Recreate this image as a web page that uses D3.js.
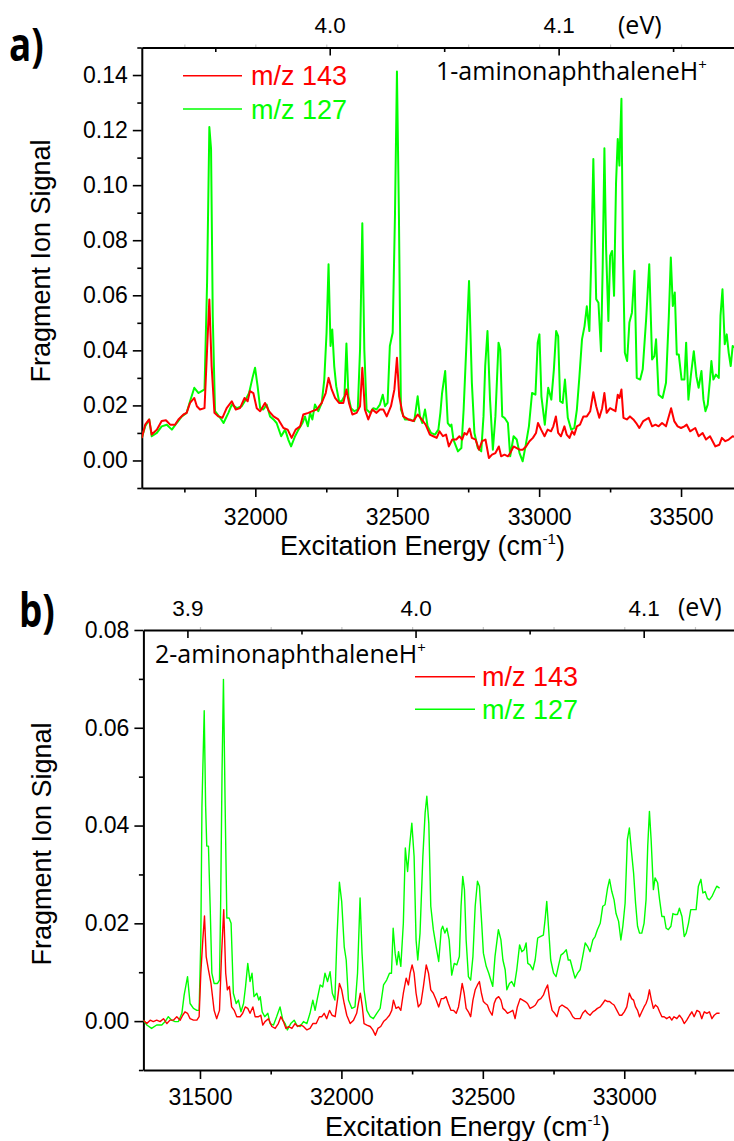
<!DOCTYPE html>
<html>
<head>
<meta charset="utf-8">
<script src="https://cdn.jsdelivr.net/npm/d3@7"></script>
<style>
  body { margin: 0; background: #fff; }
  svg { display: block; }
</style>
</head>
<body>
<svg id="chart" width="734" height="1141"></svg>
<script>
// photon energy conversion used for the top (eV) axes
const CM_PER_EV = 8065.54;

// ---------- panel a: 1-aminonaphthaleneH+ (wavenumber cm^-1, fragment signal) ----------
const aMz127 = [
  [31600,0.0082],[31612,0.0124],[31626,0.0149],[31635,0.0088],[31653,0.0100],[31670,0.0124],[31688,0.0130],[31706,0.0112],
  [31723,0.0136],[31741,0.0160],[31758,0.0173],[31770,0.0215],[31785,0.0264],[31800,0.0245],[31811,0.0252],[31821,0.0258],
  [31830,0.0646],[31838,0.1211],[31844,0.1132],[31850,0.0525],[31858,0.0179],[31876,0.0155],[31888,0.0136],[31905,0.0173],
  [31917,0.0203],[31935,0.0190],[31952,0.0197],[31966,0.0221],[31978,0.0245],[31990,0.0300],[31999,0.0337],[32008,0.0270],
  [32017,0.0190],[32028,0.0185],[32040,0.0203],[32052,0.0160],[32064,0.0149],[32075,0.0136],[32091,0.0088],[32105,0.0112],
  [32116,0.0076],[32126,0.0051],[32140,0.0088],[32152,0.0112],[32166,0.0136],[32175,0.0160],[32185,0.0124],[32193,0.0173],
  [32201,0.0149],[32210,0.0203],[32222,0.0179],[32234,0.0209],[32243,0.0294],[32251,0.0464],[32258,0.0713],[32265,0.0416],
  [32271,0.0476],[32278,0.0343],[32285,0.0270],[32295,0.0215],[32304,0.0215],[32314,0.0233],[32321,0.0425],[32328,0.0233],
  [32337,0.0190],[32349,0.0179],[32361,0.0185],[32369,0.0403],[32377,0.0862],[32384,0.0403],[32392,0.0185],[32404,0.0173],
  [32416,0.0190],[32427,0.0185],[32439,0.0203],[32449,0.0239],[32457,0.0197],[32466,0.0209],[32474,0.0416],[32484,0.0464],
  [32492,0.0889],[32499,0.1413],[32506,0.0889],[32513,0.0185],[32527,0.0149],[32545,0.0149],[32560,0.0143],[32572,0.0233],
  [32580,0.0160],[32588,0.0136],[32598,0.0185],[32607,0.0124],[32619,0.0100],[32633,0.0094],[32645,0.0112],[32652,0.0173],
  [32658,0.0245],[32669,0.0325],[32678,0.0136],[32687,0.0124],[32691,0.0130],[32698,0.0076],[32714,0.0033],[32726,0.0045],
  [32734,0.0185],[32743,0.0403],[32753,0.0652],[32763,0.0282],[32772,0.0100],[32784,0.0045],[32796,0.0033],[32804,0.0161],
  [32810,0.0343],[32818,0.0470],[32827,0.0221],[32837,0.0039],[32846,0.0161],[32857,0.0428],[32863,0.0403],[32870,0.0160],
  [32878,0.0155],[32890,0.0136],[32898,0.0015],[32910,0.0088],[32921,0.0076],[32931,0.0027],[32942,-0.0003],[32952,0.0051],
  [32964,0.0124],[32975,0.0245],[32987,0.0239],[32995,0.0428],[33001,0.0458],[33008,0.0233],[33020,0.0130],[33032,0.0264],
  [33043,0.0221],[33052,0.0331],[33060,0.0470],[33067,0.0452],[33074,0.0215],[33083,0.0209],[33091,0.0294],[33101,0.0155],
  [33113,0.0112],[33124,0.0118],[33133,0.0185],[33142,0.0306],[33151,0.0440],[33160,0.0488],[33168,0.0560],[33177,0.0470],
  [33183,0.0707],[33191,0.1095],[33201,0.0586],[33209,0.0573],[33218,0.0397],[33224,0.0707],[33230,0.1134],[33236,0.0768],
  [33244,0.0507],[33250,0.0743],[33257,0.0761],[33264,0.0598],[33271,0.1010],[33277,0.1168],[33283,0.1071],[33285,0.1156],
  [33290,0.1314],[33295,0.0768],[33302,0.0391],[33310,0.0361],[33318,0.0501],[33327,0.0537],[33336,0.0689],[33344,0.0300],
  [33356,0.0294],[33365,0.0331],[33377,0.0513],[33388,0.0713],[33398,0.0367],[33406,0.0379],[33412,0.0440],[33421,0.0239],
  [33435,0.0227],[33447,0.0282],[33457,0.0525],[33464,0.0737],[33471,0.0561],[33478,0.0610],[33485,0.0385],[33492,0.0385],
  [33502,0.0294],[33512,0.0294],[33518,0.0428],[33526,0.0221],[33535,0.0312],[33545,0.0397],[33554,0.0306],[33562,0.0264],
  [33572,0.0325],[33579,0.0221],[33586,0.0179],[33594,0.0203],[33602,0.0294],[33607,0.0361],[33614,0.0294],[33623,0.0312],
  [33633,0.0300],[33639,0.0525],[33646,0.0622],[33654,0.0422],[33661,0.0458],[33668,0.0391],[33675,0.0343],[33682,0.0416],
  [33690,0.0410]
];

const aMz143 = [
  [31600,0.0082],[31612,0.0130],[31626,0.0149],[31635,0.0094],[31653,0.0112],[31670,0.0143],[31685,0.0146],[31700,0.0130],
  [31717,0.0130],[31729,0.0149],[31747,0.0167],[31758,0.0173],[31770,0.0209],[31785,0.0227],[31794,0.0197],[31805,0.0185],
  [31821,0.0190],[31830,0.0403],[31838,0.0585],[31846,0.0343],[31856,0.0173],[31870,0.0160],[31884,0.0155],[31899,0.0190],
  [31917,0.0215],[31931,0.0185],[31946,0.0190],[31962,0.0227],[31973,0.0215],[31981,0.0252],[31993,0.0245],[32005,0.0190],
  [32017,0.0179],[32034,0.0209],[32048,0.0179],[32064,0.0160],[32081,0.0149],[32099,0.0118],[32114,0.0112],[32128,0.0082],
  [32142,0.0112],[32158,0.0124],[32169,0.0167],[32187,0.0173],[32201,0.0179],[32216,0.0185],[32234,0.0209],[32248,0.0245],
  [32258,0.0300],[32269,0.0258],[32281,0.0227],[32295,0.0209],[32310,0.0209],[32321,0.0258],[32330,0.0209],[32342,0.0167],
  [32357,0.0173],[32369,0.0197],[32377,0.0337],[32386,0.0185],[32398,0.0149],[32412,0.0185],[32427,0.0173],[32439,0.0185],
  [32451,0.0185],[32463,0.0160],[32478,0.0197],[32490,0.0258],[32499,0.0373],[32507,0.0233],[32521,0.0160],[32539,0.0149],
  [32557,0.0143],[32572,0.0167],[32586,0.0149],[32600,0.0130],[32615,0.0094],[32627,0.0088],[32639,0.0082],[32649,0.0106],
  [32661,0.0088],[32672,0.0094],[32682,0.0051],[32694,0.0076],[32708,0.0076],[32719,0.0088],[32729,0.0076],[32737,0.0100],
  [32745,0.0094],[32755,0.0116],[32763,0.0082],[32776,0.0076],[32788,0.0039],[32799,0.0070],[32811,0.0076],[32823,0.0009],
  [32834,0.0021],[32846,0.0027],[32858,0.0051],[32866,0.0015],[32878,0.0021],[32890,0.0015],[32898,0.0027],[32910,0.0051],
  [32921,0.0045],[32931,0.0039],[32942,0.0039],[32954,0.0051],[32966,0.0070],[32978,0.0082],[32989,0.0100],[32996,0.0136],
  [33007,0.0112],[33019,0.0088],[33030,0.0112],[33042,0.0106],[33050,0.0124],[33059,0.0160],[33067,0.0100],[33077,0.0088],
  [33089,0.0124],[33097,0.0094],[33107,0.0082],[33116,0.0106],[33124,0.0094],[33133,0.0124],[33144,0.0130],[33156,0.0160],
  [33168,0.0160],[33180,0.0179],[33191,0.0248],[33201,0.0197],[33212,0.0155],[33222,0.0190],[33230,0.0245],[33238,0.0173],
  [33250,0.0190],[33259,0.0185],[33269,0.0179],[33277,0.0239],[33283,0.0227],[33290,0.0258],[33297,0.0155],[33309,0.0149],
  [33320,0.0160],[33332,0.0149],[33342,0.0136],[33353,0.0118],[33367,0.0143],[33386,0.0155],[33398,0.0124],[33410,0.0130],
  [33421,0.0124],[33433,0.0136],[33447,0.0124],[33465,0.0190],[33476,0.0143],[33488,0.0124],[33500,0.0118],[33512,0.0124],
  [33520,0.0130],[33532,0.0106],[33550,0.0118],[33562,0.0088],[33576,0.0100],[33588,0.0076],[33602,0.0088],[33621,0.0051],
  [33635,0.0057],[33644,0.0082],[33656,0.0070],[33668,0.0076],[33682,0.0088],[33690,0.0085]
];

// ---------- panel b: 2-aminonaphthaleneH+ ----------
const bMz127 = [
  [31300,0.0002],[31312,-0.0008],[31329,-0.0015],[31347,-0.0008],[31365,-0.0008],[31377,-0.0001],[31388,0.0009],[31400,0.0002],
  [31412,-0.0001],[31424,-0.0001],[31436,0.0016],[31444,0.0053],[31456,0.0091],[31465,0.0036],[31477,0.0026],[31489,0.0022],
  [31497,0.0022],[31503,0.0166],[31507,0.0440],[31515,0.0635],[31520,0.0440],[31524,0.0358],[31530,0.0358],[31536,0.0235],
  [31542,0.0098],[31550,0.0077],[31562,0.0077],[31569,0.0084],[31573,0.0235],[31578,0.0508],[31583,0.0699],[31589,0.0440],
  [31595,0.0211],[31603,0.0211],[31610,0.0200],[31618,0.0057],[31628,0.0036],[31636,0.0043],[31645,0.0019],[31654,0.0036],
  [31661,0.0070],[31669,0.0118],[31677,0.0081],[31684,0.0098],[31691,0.0050],[31701,0.0057],[31708,0.0043],[31713,0.0050],
  [31720,0.0019],[31729,0.0009],[31740,0.0016],[31748,-0.0005],[31760,-0.0008],[31771,0.0009],[31783,0.0029],[31793,0.0002],
  [31801,-0.0005],[31809,-0.0018],[31821,-0.0005],[31833,0.0002],[31842,-0.0008],[31854,-0.0011],[31866,-0.0001],[31878,-0.0005],
  [31889,0.0016],[31899,0.0043],[31907,0.0022],[31915,0.0046],[31925,0.0074],[31934,0.0070],[31942,0.0098],[31951,0.0081],
  [31960,0.0101],[31968,0.0057],[31977,0.0043],[31984,0.0166],[31993,0.0284],[32001,0.0245],[32010,0.0152],[32017,0.0125],
  [32025,0.0043],[32037,0.0026],[32048,0.0029],[32057,0.0098],[32066,0.0252],[32073,0.0139],[32080,0.0064],[32090,0.0022],
  [32102,0.0009],[32113,0.0005],[32125,0.0016],[32137,0.0026],[32149,0.0074],[32160,0.0084],[32170,0.0098],[32177,0.0098],
  [32183,0.0190],[32190,0.0139],[32196,0.0115],[32202,0.0142],[32210,0.0112],[32219,0.0200],[32226,0.0354],[32234,0.0306],
  [32241,0.0358],[32249,0.0405],[32257,0.0337],[32264,0.0166],[32270,0.0125],[32278,0.0180],[32288,0.0337],[32296,0.0426],
  [32302,0.0460],[32309,0.0405],[32316,0.0235],[32325,0.0187],[32335,0.0152],[32344,0.0122],[32353,0.0187],[32358,0.0194],
  [32366,0.0180],[32373,0.0190],[32381,0.0166],[32390,0.0094],[32399,0.0118],[32408,0.0115],[32417,0.0132],[32423,0.0235],
  [32429,0.0296],[32435,0.0269],[32441,0.0166],[32449,0.0091],[32457,0.0084],[32465,0.0132],[32473,0.0235],[32481,0.0286],
  [32488,0.0276],[32496,0.0200],[32502,0.0139],[32512,0.0112],[32521,0.0098],[32528,0.0084],[32535,0.0071],[32543,0.0132],
  [32555,0.0187],[32564,0.0166],[32571,0.0125],[32579,0.0105],[32585,0.0064],[32594,0.0077],[32602,0.0081],[32611,0.0071],
  [32620,0.0105],[32630,0.0156],[32638,0.0142],[32646,0.0146],[32653,0.0160],[32659,0.0118],[32667,0.0115],[32677,0.0105],
  [32685,0.0125],[32694,0.0170],[32703,0.0173],[32714,0.0176],[32720,0.0207],[32726,0.0245],[32732,0.0194],[32740,0.0125],
  [32750,0.0098],[32759,0.0091],[32767,0.0112],[32776,0.0135],[32785,0.0139],[32795,0.0146],[32802,0.0125],[32809,0.0125],
  [32818,0.0105],[32826,0.0088],[32835,0.0098],[32844,0.0105],[32853,0.0132],[32862,0.0160],[32870,0.0153],[32879,0.0142],
  [32889,0.0166],[32897,0.0173],[32905,0.0187],[32915,0.0200],[32924,0.0235],[32932,0.0238],[32941,0.0272],[32948,0.0290],
  [32956,0.0265],[32964,0.0248],[32971,0.0220],[32980,0.0204],[32988,0.0166],[32995,0.0194],[33003,0.0241],[33011,0.0371],
  [33018,0.0395],[33026,0.0344],[33033,0.0303],[33040,0.0241],[33047,0.0194],[33054,0.0180],[33062,0.0180],[33070,0.0200],
  [33077,0.0248],[33083,0.0358],[33089,0.0429],[33095,0.0371],[33103,0.0269],[33109,0.0293],[33118,0.0283],[33125,0.0248],
  [33133,0.0214],[33141,0.0214],[33148,0.0190],[33156,0.0187],[33165,0.0194],[33172,0.0220],[33180,0.0218],[33188,0.0218],
  [33195,0.0231],[33204,0.0214],[33212,0.0173],[33219,0.0180],[33227,0.0200],[33235,0.0228],[33245,0.0228],[33254,0.0228],
  [33262,0.0276],[33271,0.0290],[33278,0.0262],[33286,0.0265],[33294,0.0251],[33301,0.0248],[33310,0.0255],[33318,0.0265],
  [33327,0.0276],[33337,0.0272]
];

const bMz143 = [
  [31300,0.0002],[31312,-0.0005],[31324,0.0002],[31335,-0.0001],[31347,0.0002],[31359,-0.0001],[31371,0.0005],[31383,-0.0005],
  [31394,0.0002],[31406,0.0002],[31418,0.0009],[31430,0.0002],[31439,0.0012],[31447,0.0019],[31456,0.0016],[31465,0.0005],
  [31477,0.0002],[31489,0.0002],[31497,0.0009],[31503,0.0098],[31510,0.0166],[31516,0.0215],[31522,0.0132],[31530,0.0105],
  [31539,0.0077],[31550,0.0022],[31559,0.0005],[31569,0.0022],[31576,0.0132],[31584,0.0228],[31591,0.0098],[31597,0.0064],
  [31604,0.0071],[31612,0.0029],[31621,0.0022],[31630,0.0009],[31642,0.0009],[31651,0.0016],[31660,0.0029],[31669,0.0026],
  [31677,0.0016],[31687,0.0029],[31695,0.0009],[31707,0.0009],[31715,0.0012],[31722,-0.0008],[31730,-0.0001],[31742,0.0005],
  [31754,-0.0011],[31766,-0.0015],[31777,-0.0005],[31786,0.0009],[31795,-0.0001],[31804,-0.0015],[31813,-0.0011],[31825,-0.0015],
  [31836,-0.0005],[31845,-0.0011],[31856,-0.0008],[31866,-0.0011],[31878,-0.0018],[31889,-0.0015],[31899,-0.0005],[31911,-0.0005],
  [31922,0.0009],[31931,0.0009],[31939,0.0016],[31948,0.0005],[31958,0.0022],[31967,0.0012],[31978,0.0009],[31986,0.0043],
  [31993,0.0077],[32001,0.0064],[32010,0.0036],[32019,0.0012],[32031,-0.0005],[32043,0.0002],[32054,0.0016],[32060,0.0036],
  [32067,0.0057],[32074,0.0029],[32080,-0.0005],[32090,-0.0008],[32102,-0.0011],[32111,-0.0018],[32120,-0.0029],[32129,-0.0015],
  [32139,-0.0011],[32149,-0.0001],[32160,0.0005],[32170,0.0012],[32178,0.0022],[32184,0.0043],[32193,0.0026],[32202,0.0029],
  [32210,0.0022],[32219,0.0057],[32229,0.0088],[32237,0.0074],[32243,0.0098],[32250,0.0115],[32257,0.0098],[32264,0.0057],
  [32272,0.0029],[32281,0.0036],[32290,0.0071],[32300,0.0115],[32308,0.0098],[32316,0.0064],[32325,0.0057],[32335,0.0043],
  [32344,0.0029],[32353,0.0046],[32361,0.0046],[32370,0.0050],[32378,0.0036],[32387,0.0022],[32396,0.0022],[32406,0.0016],
  [32414,0.0029],[32420,0.0050],[32427,0.0077],[32434,0.0057],[32441,0.0026],[32449,0.0019],[32457,0.0009],[32465,0.0043],
  [32473,0.0064],[32481,0.0074],[32488,0.0081],[32495,0.0057],[32502,0.0040],[32509,0.0036],[32516,0.0033],[32523,0.0022],
  [32533,0.0012],[32540,0.0036],[32547,0.0046],[32556,0.0050],[32564,0.0043],[32571,0.0026],[32579,0.0022],[32587,0.0016],
  [32597,0.0019],[32606,0.0022],[32614,0.0005],[32622,0.0029],[32632,0.0046],[32641,0.0043],[32650,0.0040],[32658,0.0036],
  [32667,0.0026],[32677,0.0029],[32686,0.0033],[32696,0.0043],[32705,0.0046],[32714,0.0053],[32721,0.0064],[32729,0.0074],
  [32736,0.0046],[32745,0.0022],[32754,0.0016],[32762,0.0009],[32771,0.0029],[32780,0.0033],[32790,0.0029],[32799,0.0026],
  [32809,0.0019],[32818,0.0009],[32826,0.0005],[32835,0.0005],[32844,0.0005],[32853,0.0016],[32862,0.0022],[32870,0.0016],
  [32879,0.0012],[32889,0.0019],[32897,0.0022],[32905,0.0026],[32915,0.0029],[32924,0.0036],[32932,0.0043],[32941,0.0040],
  [32948,0.0040],[32956,0.0036],[32964,0.0033],[32974,0.0022],[32983,0.0012],[32991,0.0012],[33000,0.0019],[33009,0.0029],
  [33018,0.0057],[33026,0.0046],[33033,0.0043],[33040,0.0029],[33047,0.0022],[33054,0.0009],[33062,0.0019],[33070,0.0029],
  [33077,0.0036],[33083,0.0046],[33089,0.0064],[33096,0.0043],[33103,0.0026],[33110,0.0033],[33118,0.0029],[33125,0.0019],
  [33133,0.0009],[33141,0.0009],[33150,0.0005],[33160,0.0009],[33168,0.0002],[33176,0.0009],[33186,0.0005],[33195,0.0012],
  [33204,0.0005],[33212,-0.0005],[33221,0.0002],[33231,0.0012],[33239,0.0019],[33247,0.0009],[33257,0.0022],[33266,0.0019],
  [33274,0.0005],[33283,0.0019],[33292,0.0016],[33301,0.0019],[33310,0.0005],[33318,0.0012],[33327,0.0016],[33337,0.0016]
];

// axis tick values
const aXTicks = [32000, 32500, 33000, 33500];
const aXMinor = [31750, 32250, 32750, 33250];
const aYTicks = [0, 0.02, 0.04, 0.06, 0.08, 0.10, 0.12, 0.14];
const aEvTicks = [4.0, 4.1];
const aEvMinor = [3.95, 4.05, 4.15];

const bXTicks = [31500, 32000, 32500, 33000];
const bXMinor = [31750, 32250, 32750, 33250];
const bYTicks = [0, 0.02, 0.04, 0.06, 0.08];
const bEvTicks = [3.9, 4.0, 4.1];
const bEvMinor = [3.95, 4.05];

const seriesNames = ["m/z 143", "m/z 127"];
const seriesColors = ["#ff0000", "#00ff00"];

const ARIAL = "'Liberation Sans', Arial, sans-serif";
const SANS = "'Open Sans', 'Noto Sans', sans-serif";

const svg = d3.select("#chart");

const panels = [
  {
    id: "a", tag: "a)", compound: "1-aminonaphthalene", tagX: 9, tagY: 61,
    red: aMz143, green: aMz127,
    xDomain: [31600, 33700], yDomain: [-0.01, 0.15],
    left: 141.8, right: 737.8, top: 47.5, bottom: 488,
    xTicks: aXTicks, xMinor: aXMinor, yTicks: aYTicks, evTicks: aEvTicks, evMinor: aEvMinor,
    xPad: 11.5, width: 2,
    compX: 436, compY: 80,
    legX1: 183, legX2: 242, legTextX: 251, legY: [75.7, 109],
    evLabelX: 618, xTitleX: 280, xTitleY: 555, yTitleX: 50, yTitleY: 261
  },
  {
    id: "b", tag: "b)", compound: "2-aminonaphthalene", tagX: 19, tagY: 627,
    red: bMz143, green: bMz127,
    xDomain: [31300, 33400], yDomain: [-0.01, 0.08],
    left: 143.4, right: 737.4, top: 630, bottom: 1070,
    xTicks: bXTicks, xMinor: bXMinor, yTicks: bYTicks, evTicks: bEvTicks, evMinor: bEvMinor,
    xPad: 9.5, width: 1.4,
    compX: 155, compY: 663,
    legX1: 415, legX2: 475, legTextX: 482, legY: [676.7, 709.3],
    evLabelX: 678, xTitleX: 325, xTitleY: 1136, yTitleX: 51, yTitleY: 844
  }
];

function styleAxis(sel, fontSize) {
  sel.selectAll("text").attr("font-family", ARIAL).attr("font-size", fontSize).attr("fill", "#000");
  sel.selectAll(".tick line").attr("stroke", "#000").attr("stroke-width", 1.6);
  sel.select(".domain").attr("stroke", "#000").attr("stroke-width", 2);
}

function drawPanel(p) {
  const g = svg.append("g").attr("class", "panel-" + p.id);
  const x = d3.scaleLinear().domain(p.xDomain).range([p.left, p.right]);
  const y = d3.scaleLinear().domain(p.yDomain).range([p.bottom, p.top]);
  const ev = d3.scaleLinear().domain(p.xDomain.map(c => c / CM_PER_EV)).range([p.left, p.right]);

  // clip the traces to the plotting frame
  const clipId = "clip-" + p.id;
  g.append("clipPath").attr("id", clipId)
    .append("rect").attr("x", p.left).attr("y", p.top)
    .attr("width", p.right - p.left).attr("height", p.bottom - p.top);

  // faint marks on the top edge at the wavenumber ticks
  g.append("g").attr("transform", `translate(0,${p.top})`)
    .call(d3.axisTop(x).tickValues(p.xTicks.concat(p.xMinor)).tickSize(3).tickFormat(""))
    .call(s => { s.select(".domain").remove(); s.selectAll("line").attr("stroke", "#c8c8c8").attr("stroke-width", 1.2); });

  // bottom axis: wavenumber
  g.append("g").attr("transform", `translate(0,${p.bottom})`)
    .call(d3.axisBottom(x).tickValues(p.xMinor).tickSize(4.5).tickFormat(""))
    .call(s => { s.select(".domain").remove(); s.selectAll("line").attr("stroke", "#000").attr("stroke-width", 1.6); });
  g.append("g").attr("transform", `translate(0,${p.bottom})`)
    .call(d3.axisBottom(x).tickValues(p.xTicks).tickSize(9).tickSizeOuter(0).tickPadding(p.xPad).tickFormat(d3.format("d")))
    .call(s => styleAxis(s, 23));

  // left axis: signal
  const yMinor = d3.range(p.yDomain[0], p.yDomain[1] + 1e-9, 0.01).filter(v => !p.yTicks.some(t => Math.abs(t - v) < 1e-6));
  g.append("g").attr("transform", `translate(${p.left},0)`)
    .call(d3.axisLeft(y).tickValues(yMinor).tickSize(4.5).tickFormat(""))
    .call(s => { s.select(".domain").remove(); s.selectAll("line").attr("stroke", "#000").attr("stroke-width", 1.6); });
  g.append("g").attr("transform", `translate(${p.left},0)`)
    .call(d3.axisLeft(y).tickValues(p.yTicks).tickSize(9).tickSizeOuter(0).tickPadding(5).tickFormat(d3.format(".2f")))
    .call(s => styleAxis(s, 23));

  // top axis: photon energy in eV, ticks pointing into the frame
  g.append("g").attr("transform", `translate(0,${p.top})`)
    .call(d3.axisTop(ev).tickValues(p.evMinor).tickSize(-4.5).tickFormat(""))
    .call(s => { s.select(".domain").remove(); s.selectAll("line").attr("stroke", "#000").attr("stroke-width", 1.6); });
  g.append("g").attr("transform", `translate(0,${p.top})`)
    .call(d3.axisTop(ev).tickValues(p.evTicks).tickSize(-8).tickSizeOuter(0).tickPadding(14.5).tickFormat(d3.format(".1f")))
    .call(s => styleAxis(s, 22.5));
  g.append("text").attr("x", p.evLabelX).attr("y", p.top - 14)
    .attr("font-family", SANS).attr("font-size", 25).text("(eV)");

  // traces: m/z 127 underneath, m/z 143 on top
  const line = d3.line().x(d => x(d[0])).y(d => y(d[1]));
  const traces = g.append("g").attr("clip-path", `url(#${clipId})`);
  [[p.green, seriesColors[1]], [p.red, seriesColors[0]]].forEach(([data, color]) => {
    traces.append("path").datum(data)
      .attr("d", line).attr("fill", "none").attr("stroke", color)
      .attr("stroke-width", p.width).attr("stroke-linejoin", "round");
  });

  // legend
  seriesNames.forEach((name, i) => {
    g.append("line").attr("x1", p.legX1).attr("x2", p.legX2)
      .attr("y1", p.legY[i]).attr("y2", p.legY[i])
      .attr("stroke", seriesColors[i]).attr("stroke-width", 1.5);
    g.append("text").attr("x", p.legTextX).attr("y", p.legY[i] + 9.5)
      .attr("font-family", ARIAL).attr("font-size", 27).attr("fill", seriesColors[i])
      .text(name);
  });

  // compound label
  const comp = g.append("text").attr("x", p.compX).attr("y", p.compY)
    .attr("font-family", SANS).attr("font-size", 25).attr("fill", "#000");
  comp.append("tspan").text(p.compound + "H");
  comp.append("tspan").attr("font-size", 15).attr("dy", -10).text("+");

  // axis titles
  const xt = g.append("text").attr("x", p.xTitleX).attr("y", p.xTitleY)
    .attr("font-family", ARIAL).attr("font-size", 27).attr("fill", "#000");
  xt.append("tspan").text("Excitation Energy (cm");
  xt.append("tspan").attr("font-size", 15).attr("dy", -11).text("-1");
  xt.append("tspan").attr("dy", 11).text(")");

  g.append("text")
    .attr("transform", `translate(${p.yTitleX},${p.yTitleY}) rotate(-90)`)
    .attr("text-anchor", "middle")
    .attr("font-family", ARIAL).attr("font-size", 27).attr("fill", "#000")
    .text("Fragment Ion Signal");

  // panel tag
  g.append("text")
    .attr("transform", `translate(${p.tagX},${p.tagY}) scale(0.8,1)`)
    .attr("font-family", SANS).attr("font-weight", "bold").attr("font-size", 46).attr("fill", "#000")
    .text(p.tag);
}

panels.forEach(drawPanel);
</script>
</body>
</html>
